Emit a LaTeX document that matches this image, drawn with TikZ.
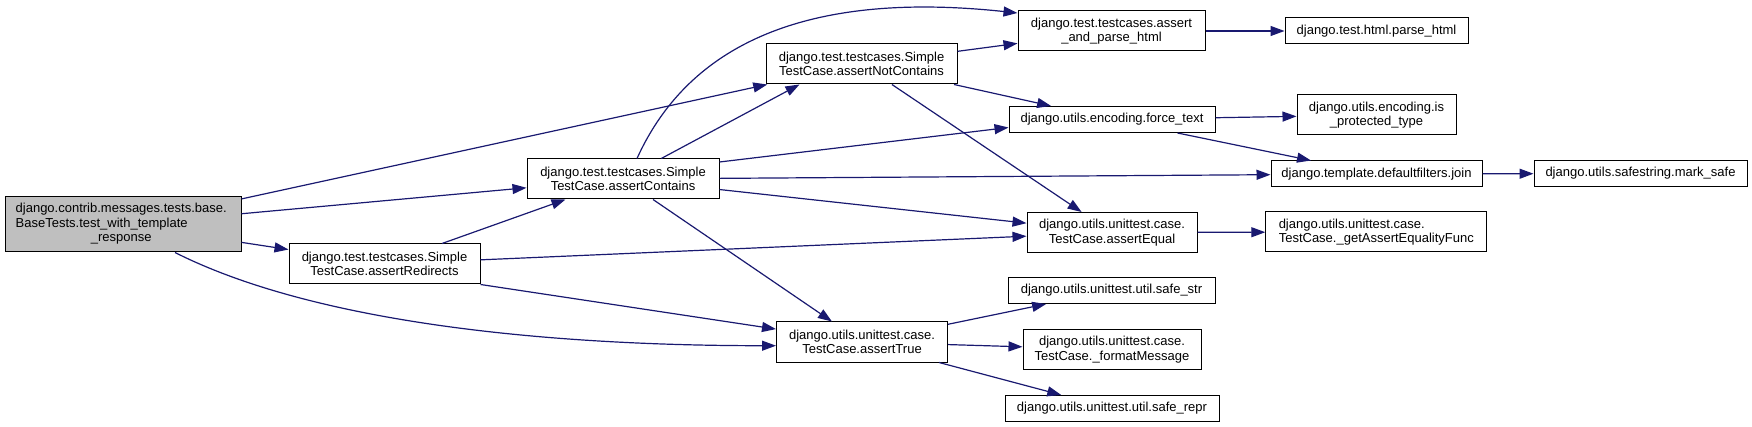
\documentclass[tikz,border=0pt]{standalone}
\usepackage{fontspec}
\setmainfont{Liberation Sans}
\usetikzlibrary{arrows.meta}
\definecolor{edgeblue}{RGB}{25,25,112}
\definecolor{rootgray}{RGB}{191,191,191}

\begin{document}
\begin{tikzpicture}[
    x=1pt, y=-1pt,
    >={Triangle[length=14pt,width=10pt]},
    func/.style={
        rectangle,
        draw=black,
        fill=white,
        line width=1pt,
        minimum height=40pt,
        inner sep=0pt,
        align=center,
        font=\fontsize{13}{14.5}\selectfont
    },
    oneline/.style={
        func,
        minimum height=26pt
    },
    caller/.style={
        func,
        fill=rootgray,
        minimum height=55pt
    },
    calls/.style={
        ->,
        draw=edgeblue,
        line width=1.2pt
    }
]
\useasboundingbox (0,0) rectangle (1752,427);

% Test method
\node[caller, minimum width=236pt] (root) at (123,224.5) {
    \begin{tabular}{@{}l@{}}
    django.contrib.messages.tests.base.\\
    BaseTests.test\_with\_template\\
    \multicolumn{1}{@{}c@{}}{\_response}
    \end{tabular}
};

% Assertions
\node[func, minimum width=191pt] (redir) at (384.5,264) {django.test.testcases.Simple\\TestCase.assertRedirects};
\node[func, minimum width=192pt] (contains) at (623,179) {django.test.testcases.Simple\\TestCase.assertContains};
\node[func, minimum width=191pt] (notcontains) at (861.5,64) {django.test.testcases.Simple\\TestCase.assertNotContains};
\node[func, minimum width=171pt] (atrue) at (862,342) {django.utils.unittest.case.\\TestCase.assertTrue};

% Helpers
\node[func, minimum width=187pt] (andparse) at (1111.5,31) {django.test.testcases.assert\\\_and\_parse\_html};
\node[oneline, minimum width=206pt] (forcetext) at (1112,119.5) {django.utils.encoding.force\_text};
\node[func, minimum width=170pt] (equal) at (1112,232.5) {django.utils.unittest.case.\\TestCase.assertEqual};
\node[oneline, minimum width=207pt] (safestr) at (1111.5,290.5) {django.utils.unittest.util.safe\_str};
\node[func, minimum width=178pt] (fmtmsg) at (1112,349.5) {django.utils.unittest.case.\\TestCase.\_formatMessage};
\node[oneline, minimum width=214pt] (saferepr) at (1112,408.5) {django.utils.unittest.util.safe\_repr};

% Leaves
\node[oneline, minimum width=183pt] (parsehtml) at (1376.5,31) {django.test.html.parse\_html};
\node[func, minimum width=159pt] (isprot) at (1376.5,115) {django.utils.encoding.is\\\_protected\_type};
\node[oneline, minimum width=211pt] (join) at (1376.5,174) {django.template.defaultfilters.join};
\node[func, minimum width=221pt, align=left] (eqfunc) at (1376.3,232) {django.utils.unittest.case.\\TestCase.\_getAssertEqualityFunc};
\node[oneline, minimum width=213pt] (marksafe) at (1640.5,173.5) {django.utils.safestring.mark\_safe};

% Calls from the test
\draw[calls] (root) -- (notcontains);
\draw[calls] (root) -- (contains);
\draw[calls] (root) -- (redir);
\draw[calls] ([xshift=52]root.south) .. controls +(145,73) and +(-216,0) .. ([yshift=-3.7]atrue.west);

% assertRedirects
\draw[calls] (redir) -- (contains);
\draw[calls] (redir) -- (equal);
\draw[calls] (redir.south east) -- (atrue);

% assertContains
\draw[calls] ([xshift=14]contains.north) .. controls +(63,-139) and +(-168,-18) .. ([yshift=18]andparse.west);
\draw[calls] (contains) -- ([xshift=-62]notcontains.south);
\draw[calls] ([yshift=17]contains.east) -- ([yshift=-8]forcetext.west);
\draw[calls] (contains) -- (join);
\draw[calls] (contains) -- (equal);
\draw[calls] (contains) -- (atrue);

% assertNotContains
\draw[calls] (notcontains) -- (andparse);
\draw[calls] (notcontains) -- (forcetext);
\draw[calls] (notcontains) -- (equal);

% Further down
\draw[calls] (andparse) -- (parsehtml);
\draw[calls] (forcetext) -- (isprot);
\draw[calls] (forcetext) -- (join);
\draw[calls] (join) -- (marksafe);
\draw[calls] (equal) -- (eqfunc);
\draw[calls] (atrue) -- (safestr);
\draw[calls] (atrue) -- (fmtmsg);
\draw[calls] (atrue) -- (saferepr);

\end{tikzpicture}
\end{document}
